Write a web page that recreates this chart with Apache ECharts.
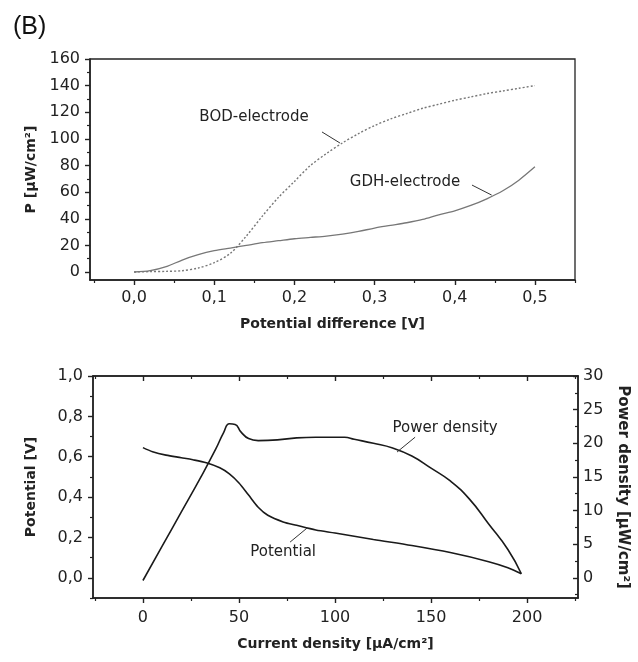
<!DOCTYPE html>
<html>
<head>
<meta charset="utf-8">
<title>(B) power curves</title>
<script src="https://cdn.jsdelivr.net/npm/echarts@6/dist/echarts.min.js"></script>
<style>
  html, body { margin: 0; padding: 0; background: #fff; }
  #chart { width: 638px; height: 662px; }
</style>
</head>
<body>
<div id="chart"></div>
<script>
// top panel: power vs potential difference
const bodV = [0, 0.02, 0.04, 0.06, 0.08, 0.1, 0.12, 0.14, 0.16, 0.18, 0.2, 0.22, 0.24, 0.26, 0.28, 0.3, 0.32, 0.34, 0.36, 0.38, 0.4, 0.42, 0.44, 0.46, 0.48, 0.5]
const bodP = [0, 0.3, 0.5, 1, 3, 7, 14, 27, 42, 56, 68, 80, 89, 97, 104, 110, 115, 119, 123, 126, 129, 131.5, 134, 136, 138, 140]
const gdhV = [0, 0.02, 0.04, 0.06, 0.08, 0.1, 0.12, 0.14, 0.16, 0.18, 0.2, 0.22, 0.24, 0.26, 0.28, 0.3, 0.32, 0.34, 0.36, 0.38, 0.4, 0.42, 0.44, 0.46, 0.48, 0.5]
const gdhP = [0, 1, 4, 9, 13, 16, 18, 20, 22, 23.5, 25, 26, 27, 28.5, 30.5, 33, 35, 37, 39.5, 43, 46, 50, 55, 61, 69, 79]

// bottom panel: polarisation + power density vs current density
const potI = [0, 5, 12, 20, 26, 33, 40, 45, 50, 55, 60, 65, 73, 80, 90, 100, 120, 140, 160, 180, 190, 197]
const potV = [0.645, 0.625, 0.608, 0.595, 0.585, 0.57, 0.545, 0.515, 0.47, 0.41, 0.35, 0.31, 0.277, 0.26, 0.237, 0.222, 0.19, 0.16, 0.125, 0.08, 0.05, 0.02]
const powI = [0, 10, 20, 30, 38, 42, 45, 48, 51, 55, 60, 70, 80, 90, 100, 105, 110, 120, 130, 140, 150, 160, 170, 180, 190, 197]
const powP = [-0.4, 4.7, 9.8, 14.9, 19.2, 21.6, 22.9, 22.8, 21.7, 20.7, 20.4, 20.5, 20.8, 20.9, 20.9, 20.9, 20.6, 20.0, 19.3, 18.1, 16.3, 14.4, 11.7, 8.0, 4.2, 0.6]

// tick labels
const topXTicks = [0, 0.1, 0.2, 0.3, 0.4, 0.5]
const topXMinor = [-0.05, 0.05, 0.15, 0.25, 0.35, 0.45, 0.55]
const topYTicks = [0, 20, 40, 60, 80, 100, 120, 140, 160]
const topYMinor = [10, 30, 50, 70, 90, 110, 130, 150]
const botXTicks = [0, 50, 100, 150, 200]
const botXMinor = [-25, 25, 75, 125, 175, 225]
const botYTicks = [0, 0.2, 0.4, 0.6, 0.8, 1.0]
const botYMinor = [-0.1, 0.1, 0.3, 0.5, 0.7, 0.9]
const botY2Ticks = [0, 5, 10, 15, 20, 25, 30]
const botY2Minor = [-2.5, 2.5, 7.5, 12.5, 17.5, 22.5, 27.5]

const FONT = 'DejaVu Sans'
const INK = '#222'
const comma = v => v.toFixed(1).replace('.', ',')
const zip = (a, b) => a.map((x, i) => [x, b[i]])

const chart = echarts.init(document.getElementById('chart'))

const axisLine = { show: true, onZero: false, lineStyle: { color: INK, width: 1.6 } }
const nameStyle = { fontFamily: FONT, fontWeight: 'bold', fontSize: 14, color: INK }
const labelBase = { fontFamily: FONT, fontSize: 16, color: INK }

function minorAxis(extra, vals, inside) {
  return Object.assign({
    type: 'value',
    axisLine: { show: false, onZero: false },
    axisTick: { show: true, customValues: vals, length: 3, inside: !!inside, lineStyle: { color: INK, width: 1.2 } },
    axisLabel: { show: false },
    splitLine: { show: false }
  }, extra)
}

function annot(coord, text, from, to) {
  return {
    markPoint: {
      silent: true, symbol: 'circle', symbolSize: 0,
      label: { show: true, position: 'inside', formatter: text, fontFamily: FONT, fontSize: 15, color: INK },
      data: [{ coord: coord }]
    },
    markLine: {
      silent: true, symbol: 'none',
      label: { show: false },
      lineStyle: { type: 'solid', color: '#333', width: 1 },
      data: [[{ coord: from }, { coord: to }]]
    }
  }
}

chart.setOption({
  animation: false,
  title: {
    text: '(B)', left: 8, top: 10,
    textStyle: { fontFamily: 'Liberation Sans', fontSize: 25, fontWeight: 'normal', color: '#111' }
  },
  grid: [
    { left: 90, top: 59, width: 485, height: 221, show: true, borderColor: INK, borderWidth: 1.3, backgroundColor: '#fff' },
    { left: 93, top: 376, width: 485, height: 222, show: true, borderColor: INK, borderWidth: 1.3, backgroundColor: '#fff' }
  ],
  xAxis: [
    { // 0 top panel main
      type: 'value', gridIndex: 0, min: -0.055, max: 0.55, position: 'bottom',
      axisLine: axisLine,
      axisTick: { show: true, customValues: topXTicks, length: 5, lineStyle: { color: INK, width: 1.4 } },
      axisLabel: Object.assign({ customValues: topXTicks, formatter: comma, margin: 10 }, labelBase),
      splitLine: { show: false },
      name: 'Potential difference [V]', nameLocation: 'middle', nameGap: 37, nameTextStyle: nameStyle
    },
    minorAxis({ gridIndex: 0, min: -0.055, max: 0.55, position: 'bottom' }, topXMinor),
    { // 2 bottom panel main
      type: 'value', gridIndex: 1, min: -26, max: 226.5, position: 'bottom',
      axisLine: axisLine,
      axisTick: { show: true, customValues: botXTicks, length: 5, lineStyle: { color: INK, width: 1.4 } },
      axisLabel: Object.assign({ customValues: botXTicks, margin: 12 }, labelBase),
      splitLine: { show: false },
      name: 'Current density [µA/cm²]', nameLocation: 'middle', nameGap: 39, nameTextStyle: nameStyle
    },
    minorAxis({ gridIndex: 1, min: -26, max: 226.5, position: 'bottom' }, botXMinor),
    { // 4 bottom panel top edge
      type: 'value', gridIndex: 1, min: -26, max: 226.5, position: 'top',
      axisLine: axisLine,
      axisTick: { show: true, inside: true, customValues: botXTicks, length: 5, lineStyle: { color: INK, width: 1.4 } },
      axisLabel: { show: false },
      splitLine: { show: false }
    },
    minorAxis({ gridIndex: 1, min: -26, max: 226.5, position: 'top' }, botXMinor, true)
  ],
  yAxis: [
    { // 0 top panel main
      type: 'value', gridIndex: 0, min: -6, max: 160, position: 'left',
      axisLine: axisLine,
      axisTick: { show: true, customValues: topYTicks, length: 5, lineStyle: { color: INK, width: 1.4 } },
      axisLabel: Object.assign({ customValues: topYTicks, margin: 10 }, labelBase),
      splitLine: { show: false },
      name: 'P [µW/cm²]', nameLocation: 'middle', nameRotate: 90, nameGap: 52, nameTextStyle: nameStyle
    },
    minorAxis({ gridIndex: 0, min: -6, max: 160, position: 'left' }, topYMinor),
    { // 2 bottom panel left
      type: 'value', gridIndex: 1, min: -0.1, max: 1.0, position: 'left',
      axisLine: axisLine,
      axisTick: { show: true, customValues: botYTicks, length: 5, lineStyle: { color: INK, width: 1.4 } },
      axisLabel: Object.assign({ customValues: botYTicks, formatter: comma, margin: 10 }, labelBase),
      splitLine: { show: false },
      name: 'Potential [V]', nameLocation: 'middle', nameRotate: 90, nameGap: 55, nameTextStyle: nameStyle
    },
    minorAxis({ gridIndex: 1, min: -0.1, max: 1.0, position: 'left' }, botYMinor),
    { // 4 bottom panel right
      type: 'value', gridIndex: 1, min: -3, max: 30, position: 'right',
      axisLine: axisLine,
      axisTick: { show: true, inside: true, customValues: botY2Ticks, length: 5, lineStyle: { color: INK, width: 1.4 } },
      axisLabel: Object.assign({ customValues: botY2Ticks, margin: 5 }, labelBase),
      splitLine: { show: false },
      name: 'Power density [µW/cm²]', nameLocation: 'middle', nameRotate: -90, nameGap: 37,
      nameTextStyle: Object.assign({}, nameStyle, { fontSize: 15 })
    },
    minorAxis({ gridIndex: 1, min: -3, max: 30, position: 'right' }, botY2Minor, true)
  ],
  series: [
    Object.assign({
      name: 'BOD-electrode', type: 'line', xAxisIndex: 0, yAxisIndex: 0,
      data: zip(bodV, bodP), smooth: 0.3, symbol: 'none',
      lineStyle: { color: '#777', width: 1.4, type: [2, 2] }
    }, annot([0.1496, 116.4], 'BOD-electrode', [0.2344, 105.2], [0.2568, 96.9])),
    Object.assign({
      name: 'GDH-electrode', type: 'line', xAxisIndex: 0, yAxisIndex: 0,
      data: zip(gdhV, gdhP), smooth: 0.3, symbol: 'none',
      lineStyle: { color: '#777', width: 1.3 }
    }, annot([0.338, 67.6], 'GDH-electrode', [0.4215, 65.3], [0.446, 57.8])),
    Object.assign({
      name: 'Potential', type: 'line', xAxisIndex: 2, yAxisIndex: 2,
      data: zip(potI, potV), smooth: 0.3, symbol: 'none',
      lineStyle: { color: '#1a1a1a', width: 1.6 }
    }, annot([73, 0.128], 'Potential', [76.6, 0.177], [85.5, 0.247])),
    Object.assign({
      name: 'Power density', type: 'line', xAxisIndex: 2, yAxisIndex: 4,
      data: zip(powI, powP), smooth: 0.5, symbol: 'none',
      lineStyle: { color: '#1a1a1a', width: 1.6 }
    }, annot([157.3, 22.3], 'Power density', [141.7, 20.9], [132.3, 18.7]))
  ]
})
</script>
</body>
</html>
